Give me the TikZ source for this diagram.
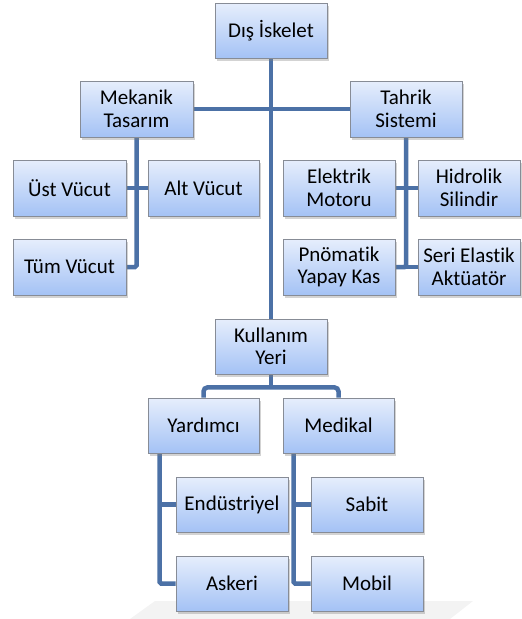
\documentclass[tikz,border=0pt]{standalone}
\usepackage{fontspec}
\setmainfont[Ligatures=NoCommon]{Carlito}
\usetikzlibrary{shadows,calc,backgrounds}
\definecolor{boxtop}{RGB}{230,238,252}
\definecolor{boxbot}{RGB}{164,194,245}
\definecolor{boxline}{RGB}{135,140,150}
\definecolor{conn}{RGB}{76,113,166}
\definecolor{floor}{RGB}{243,243,243}
\tikzset{
  box/.style={draw=boxline, line width=0.8pt, top color=boxtop, bottom color=boxbot,
    minimum width=112pt, minimum height=55pt, inner sep=1pt, align=center,
    font=\fontsize{21}{22.5}\selectfont, text=black,
    drop shadow={opacity=0.35, shadow xshift=1.5pt, shadow yshift=-2.5pt}},
  conline/.style={draw=conn, line width=4.5pt},
}
\begin{document}
\begin{tikzpicture}[x=1pt,y=-1pt]
\useasboundingbox (0,0) rectangle (522,619);
% nodes
\node[box] (dis) at (271,30.5) {Dış İskelet};
\node[box, minimum width=113pt, minimum height=56pt] (mek) at (136.5,109) {Mekanik\\Tasarım};
\node[box, minimum height=56pt] (tah) at (406,109) {Tahrik\\Sistemi};
\node[box, minimum width=113pt, minimum height=56pt] (ust) at (69.5,188) {Üst Vücut};
\node[box, minimum width=111pt, minimum height=56pt] (alt) at (203.5,188) {Alt Vücut};
\node[box, minimum width=113pt, minimum height=56pt] (tum) at (69.5,267) {Tüm Vücut};
\node[box, minimum height=56pt] (ele) at (339,188) {Elektrik\\Motoru};
\node[box, minimum width=102pt, minimum height=56pt] (hid) at (469,188) {Hidrolik\\Silindir};
\node[box, minimum height=56pt] (pno) at (339,267) {Pnömatik\\Yapay Kas};
\node[box, minimum width=102pt, minimum height=56pt] (ser) at (469,267) {Seri Elastik\\Aktüatör};
\node[box] (kul) at (271,346.5) {Kullanım\\Yeri};
\node[box, minimum width=111pt] (yar) at (203.5,425.5) {Yardımcı};
\node[box, minimum width=111pt] (med) at (338.5,425.5) {Medikal};
\node[box] (end) at (232,504.5) {Endüstriyel};
\node[box] (ask) at (232,583.5) {Askeri};
\node[box] (sab) at (367,504.5) {Sabit};
\node[box] (mob) at (367,583.5) {Mobil};
% helper points
\coordinate (bus) at ($(kul.south)+(0,13)$);
\coordinate (yarc) at ($(yar.south west)+(12,0)$);
\coordinate (medc) at ($(med.south west)+(11,0)$);
\begin{scope}[on background layer]
  % faint floor
  \fill[floor] (155,601) -- (473,601) -- (450,619) -- (130,619) -- cycle;
  % connectors
  \draw[conline] (dis.south) -- (kul.north);
  \draw[conline] (mek.east) -- (tah.west);
  \draw[conline, rounded corners=1.5pt] (mek.south) |- (tum.east);
  \draw[conline] (ust.east) -- (alt.west);
  \draw[conline, rounded corners=1.5pt] (tah.south) |- (pno.east);
  \draw[conline] (pno.east) -- (ser.west);
  \draw[conline] (ele.east) -- (hid.west);
  \draw[conline] (kul.south) -- (bus);
  \draw[conline, rounded corners=4pt] (yar.north) |- (bus) -| (med.north);
  \draw[conline, rounded corners=1.5pt] (yarc) |- (ask.west);
  \draw[conline] (yarc |- end.west) -- (end.west);
  \draw[conline, rounded corners=1.5pt] (medc) |- (mob.west);
  \draw[conline] (medc |- sab.west) -- (sab.west);
\end{scope}
\end{tikzpicture}
\end{document}
